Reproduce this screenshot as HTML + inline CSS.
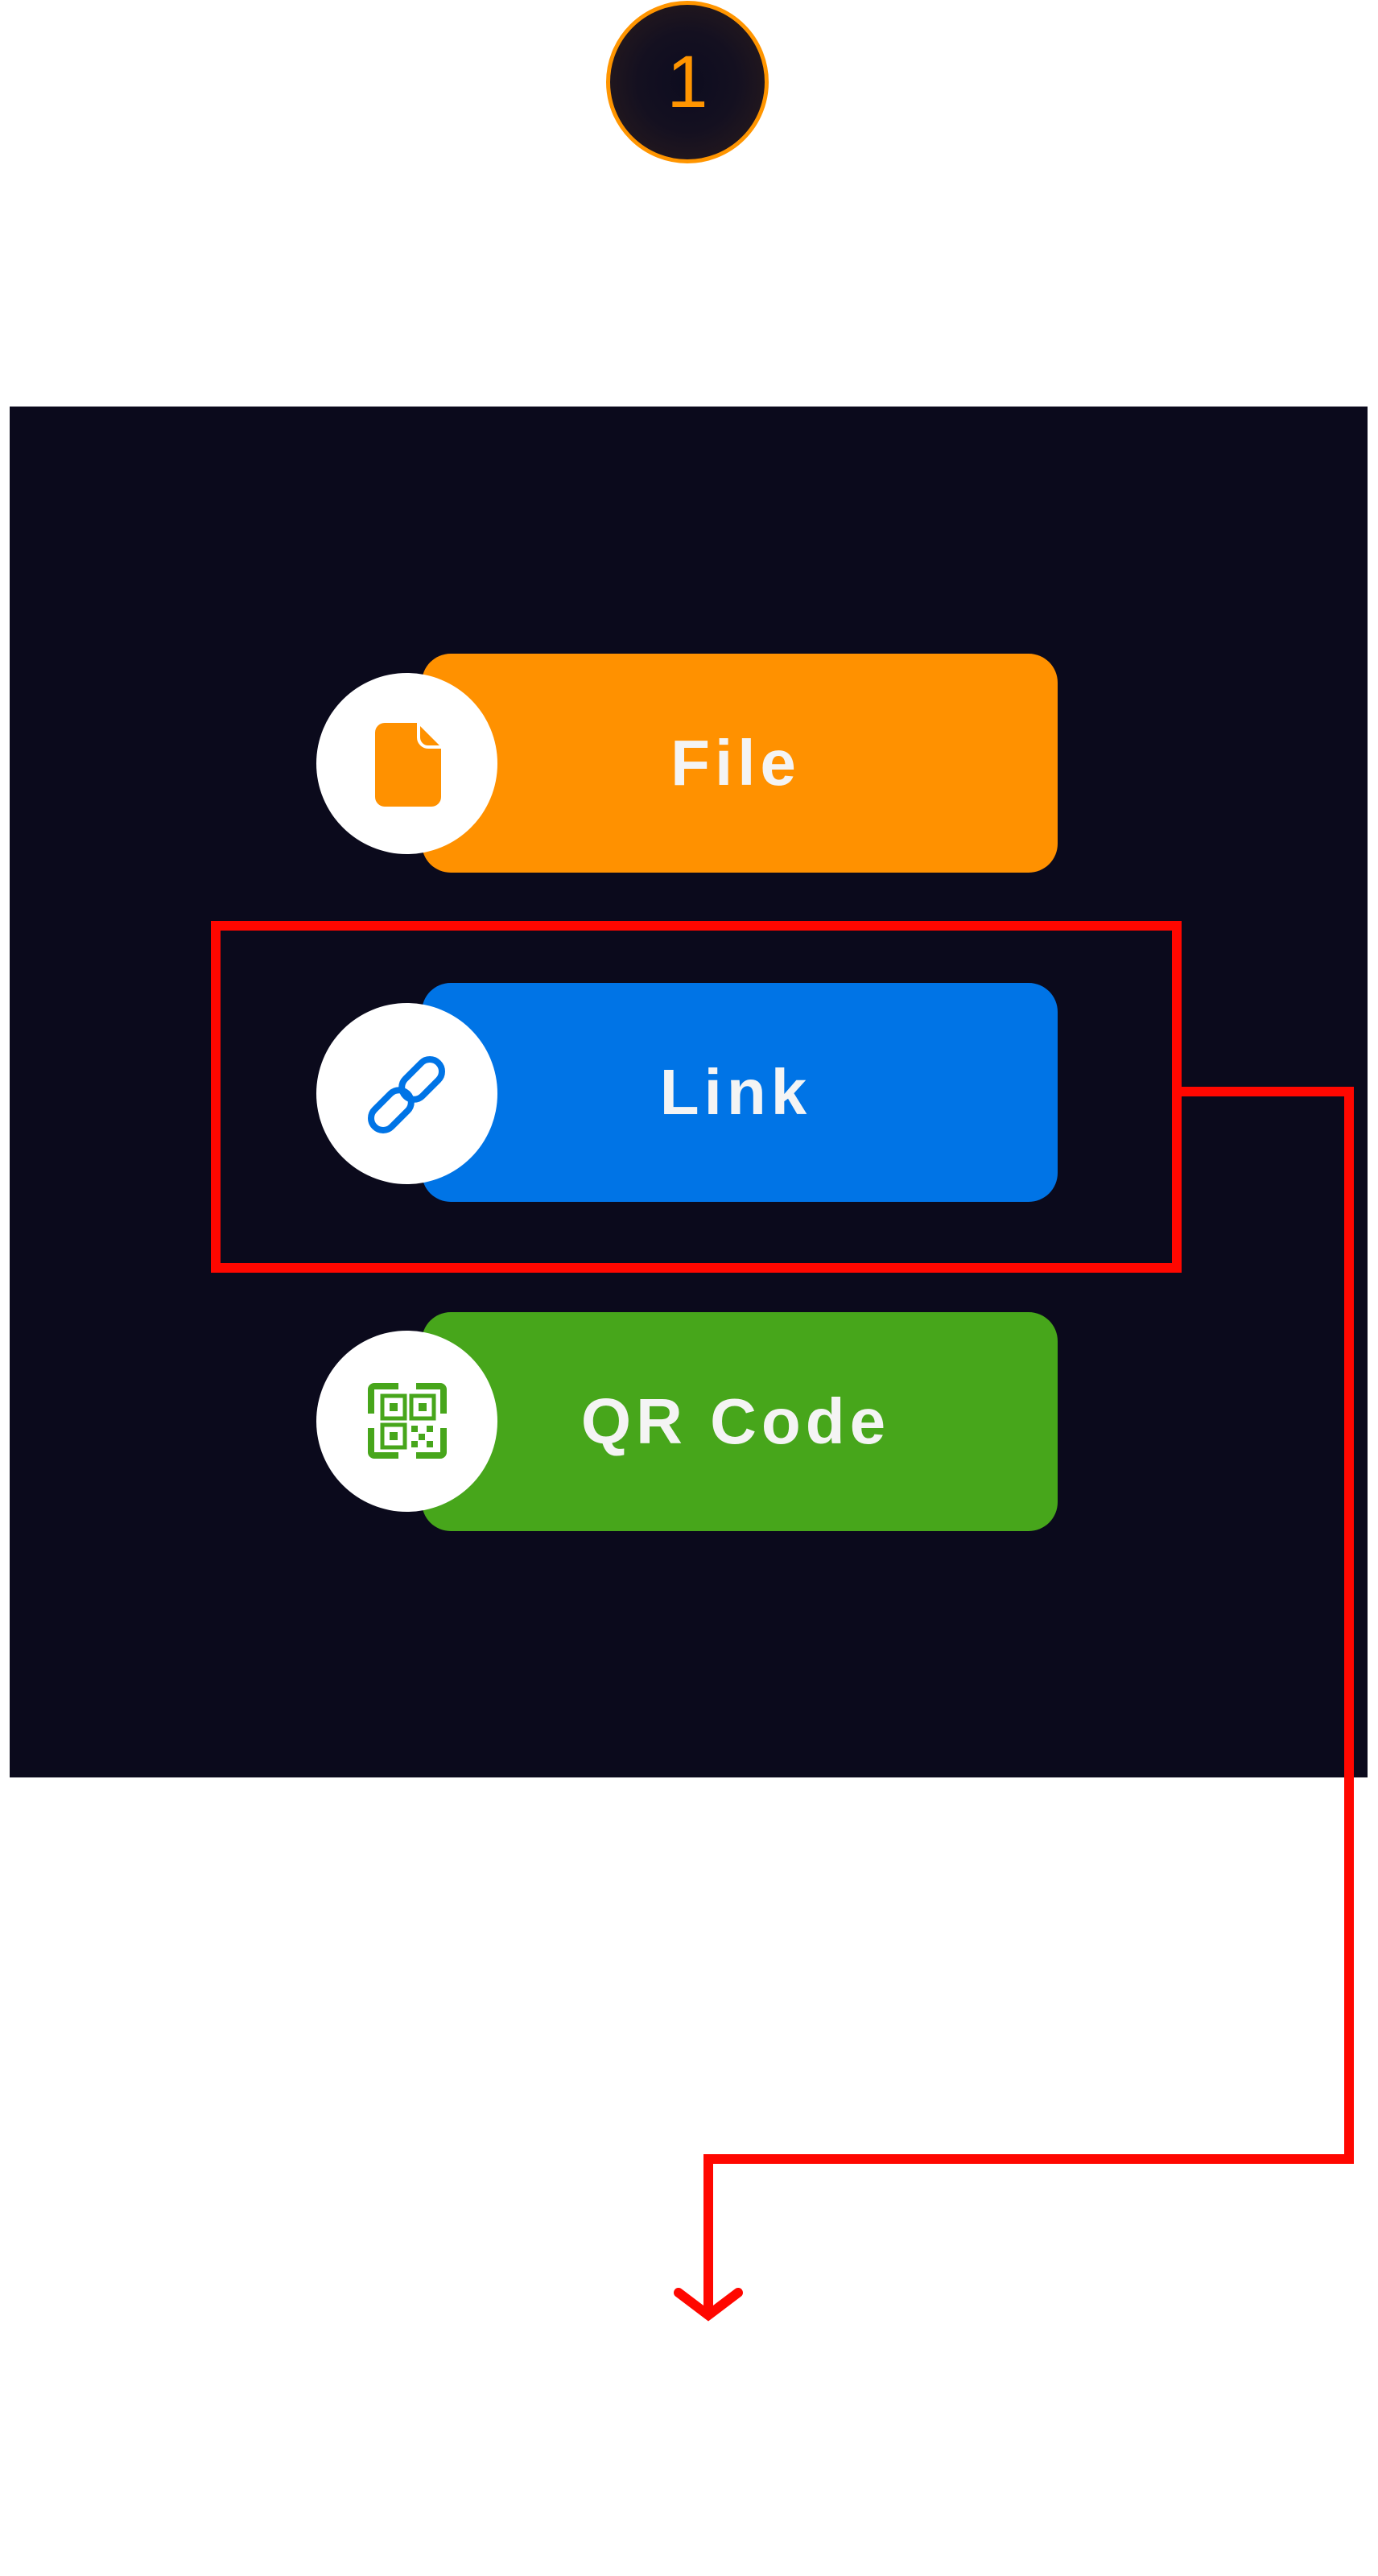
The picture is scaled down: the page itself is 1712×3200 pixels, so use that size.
<!DOCTYPE html>
<html><head><style>
html,body{margin:0;padding:0;background:#fff;}
body{width:1712px;height:3200px;position:relative;overflow:hidden;font-family:"Liberation Sans",sans-serif;}
.num{position:absolute;left:753px;top:1px;width:192px;height:192px;border-radius:50%;border:5px solid #ff9500;background:radial-gradient(circle,#0d0c1f 0%,#141020 45%,#2d1d1c 100%);color:#ff9500;font-size:92px;text-align:center;line-height:192px;}
.panel{position:absolute;left:12px;top:505px;width:1687px;height:1703px;background:#0b0a1c;}
.btn{position:absolute;left:524px;width:790px;height:272px;border-radius:36px;color:#f4f4f4;font-size:80px;font-weight:bold;letter-spacing:6px;text-align:center;line-height:272px;text-indent:-10px;}
.circ{position:absolute;left:393px;width:225px;height:225px;border-radius:50%;background:#fff;}
</style></head><body>
<div class="num">1</div>
<div class="panel"></div>
<div class="btn" style="top:812px;background:#ff9100;">File</div>
<div class="btn" style="top:1221px;background:#0074e6;">Link</div>
<div class="btn" style="top:1630px;background:#47a61b;">QR Code</div>
<div class="circ" style="top:836px;"></div>
<div class="circ" style="top:1246px;"></div>
<div class="circ" style="top:1653px;"></div>
<svg width="1712" height="3200" style="position:absolute;left:0;top:0">
  <path d="M478 898 h40 l30 30 v62 a12 12 0 0 1 -12 12 h-58 a12 12 0 0 1 -12 -12 v-80 a12 12 0 0 1 12 -12z" fill="#ff9100"/>
  <path d="M520 896 v20 a12 12 0 0 0 12 12 h18" fill="none" stroke="#fff" stroke-width="4"/>
  <g fill="none" stroke="#0074e6" stroke-width="8" stroke-linecap="round" transform="translate(505 1360) rotate(-45)">
    <rect x="-56" y="-15" width="58" height="30" rx="15"/>
    <rect x="-2" y="-15" width="58" height="30" rx="15"/>
  </g>
  <g fill="#47a61b">
    <path d="M457 1756 v-30 a8 8 0 0 1 8 -8 h30 v8 h-30 v30z"/>
    <path d="M555 1756 v-30 a8 8 0 0 0 -8 -8 h-30 v8 h30 v30z"/>
    <path d="M457 1774 v30 a8 8 0 0 0 8 8 h30 v-8 h-30 v-30z"/>
    <path d="M555 1774 v30 a8 8 0 0 1 -8 8 h-30 v-8 h30 v-30z"/>
  </g>
  <g fill="none" stroke="#47a61b" stroke-width="5">
    <rect x="475" y="1734" width="28" height="28"/>
    <rect x="511" y="1734" width="28" height="28"/>
    <rect x="475" y="1770" width="28" height="28"/>
  </g>
  <g fill="#47a61b">
    <rect x="484" y="1743" width="10" height="10"/><rect x="520" y="1743" width="10" height="10"/><rect x="484" y="1779" width="10" height="10"/>
    <rect x="511" y="1771" width="8" height="8"/><rect x="530" y="1771" width="8" height="8"/><rect x="520" y="1781" width="8" height="8"/><rect x="511" y="1790" width="8" height="8"/><rect x="530" y="1790" width="8" height="8"/>
  </g>
  <rect x="268" y="1150" width="1194" height="425" fill="none" stroke="#ff0700" stroke-width="12"/>
  <polyline points="1462,1356 1676,1356 1676,2682 880,2682 880,2876" fill="none" stroke="#ff0700" stroke-width="12"/>
  <polyline points="843,2848 880,2876 917,2848" fill="none" stroke="#ff0700" stroke-width="12" stroke-linecap="round" stroke-linejoin="miter"/>
</svg>
</body></html>
